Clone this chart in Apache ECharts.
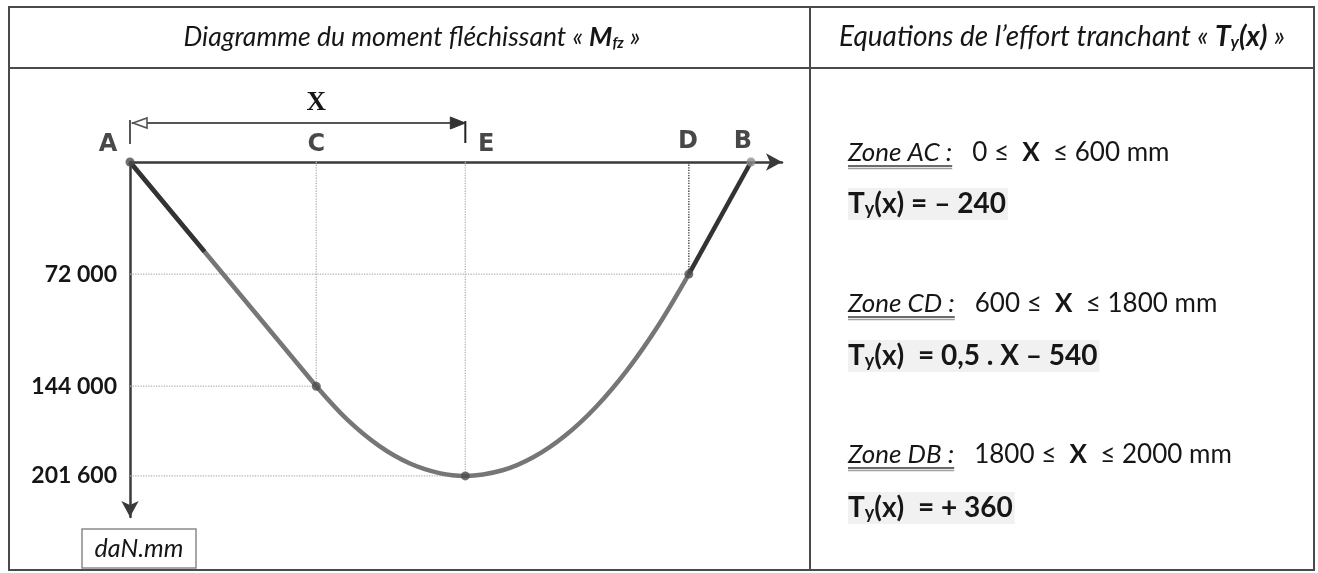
<!DOCTYPE html>
<html>
<head>
<meta charset="utf-8">
<script src="https://cdn.jsdelivr.net/npm/echarts@6/dist/echarts.min.js"></script>
<style>
  html, body { margin: 0; padding: 0; background: #ffffff; }
  #main { width: 1318px; height: 573px; }
</style>
</head>
<body>
<div id="main"></div>
<script>
// Remarkable sections of the beam (abscissa in mm, bending moment in daN.mm)
const pointNames = ['A', 'C', 'E', 'D', 'B'];
const pointX = [0, 600, 1080, 1800, 2000];
const pointM = [0, 144000, 201600, 72000, 0];

// Moment values shown on the vertical axis
const yTickValues = [72000, 144000, 201600];

// Zone AC : linear moment
const acX = [0, 600];
const acM = [0, 144000];
// darker start of segment AC
const acDarkX = [0, 240];
const acDarkM = [0, 57600];

// Zone CD : parabolic moment
const cdX = [600, 700, 800, 900, 1000, 1080, 1200, 1300, 1400, 1500, 1600, 1700, 1800];
const cdM = [144000, 165500, 182000, 193500, 200000, 201600, 198000, 189500, 176000, 157500, 134000, 105500, 72000];

// Zone DB : linear moment
const dbX = [1800, 2000];
const dbM = [72000, 0];

// Dimension "X" drawn from A to E
const dimensionFrom = 0;
const dimensionTo = 1080;

// Shear force equations
const zoneNames = ['Zone AC :', 'Zone CD :', 'Zone DB :'];
const zoneFrom = ['0', '600', '1800'];
const zoneTo = ['600', '1800', '2000'];
const shearRhs = ['= – 240', ' = 0,5 . X – 540', ' = + 360'];

const zip = (xs, ys) => xs.map((x, i) => [x, ys[i]]);
const fmt = v => String(v).replace(/\B(?=(\d{3})+(?!\d))/g, ' ');

const BASE_FONT = 'Lato';
const INK = '#161616';
const chart = echarts.init(document.getElementById('main'), null, { renderer: 'canvas' });

// dotted reference lines from the axes to C, E and D
const guideSeries = [];
[1, 2, 3].forEach(i => {
  const strong = pointNames[i] === 'D';
  guideSeries.push({
    type: 'line', symbol: 'none', silent: true, z: 1,
    data: [[0, pointM[i]], [pointX[i], pointM[i]]],
    lineStyle: { color: '#b3b3b3', width: 1.3, type: 'dotted' }
  });
  guideSeries.push({
    type: 'line', symbol: 'none', silent: true, z: 1,
    data: [[pointX[i], 0], [pointX[i], pointM[i]]],
    lineStyle: { color: strong ? '#333333' : '#b3b3b3', width: 1.3, type: 'dotted' }
  });
});

// letter positions around each section mark on the beam axis
const labelOffsets = [[-22, -17], [0, -17], [21, -17], [-1, -20], [-8, -20]];

chart.setOption({
  animation: false,
  grid: { left: 130, top: 162, width: 652, height: 355, containLabel: false },
  xAxis: {
    type: 'value', min: 0, max: 2100, position: 'top',
    axisLine: {
      show: true, onZero: false,
      symbol: ['none', 'arrow'], symbolSize: [13, 16],
      lineStyle: { color: '#3a3a3a', width: 2.5 }
    },
    axisTick: { show: false }, axisLabel: { show: false }, splitLine: { show: false }
  },
  yAxis: {
    type: 'value', min: 0, max: 228000, inverse: true,
    axisLine: {
      show: true, onZero: false,
      symbol: ['arrow', 'none'], symbolSize: [13, 16],
      lineStyle: { color: '#3a3a3a', width: 2.5 }
    },
    axisTick: { show: false },
    splitLine: { show: false },
    axisLabel: {
      show: true,
      customValues: yTickValues,
      formatter: v => fmt(v),
      margin: 13,
      fontFamily: BASE_FONT, fontWeight: 'bold', fontSize: 23, color: INK
    }
  },
  series: [
    ...guideSeries,
    {
      type: 'line', symbol: 'none', z: 3, data: zip(acX, acM),
      lineStyle: { color: '#767676', width: 4.5 }
    },
    {
      type: 'line', symbol: 'none', z: 3, smooth: 0.35, data: zip(cdX, cdM),
      lineStyle: { color: '#767676', width: 4.5 }
    },
    {
      type: 'line', symbol: 'none', z: 4, data: zip(acDarkX, acDarkM),
      lineStyle: { color: '#333333', width: 4.5 }
    },
    {
      type: 'line', symbol: 'none', z: 4, data: zip(dbX, dbM),
      lineStyle: { color: '#333333', width: 4.5 }
    },
    {
      // section marks on the moment curve
      type: 'scatter', z: 5, symbolSize: 9,
      itemStyle: { color: '#4d4d4d' },
      data: pointNames.map((n, i) => ({
        name: n, value: [pointX[i], pointM[i]],
        itemStyle: n === 'B' ? { color: '#8f8f8f' } : undefined
      }))
    },
    {
      // section letters above the beam axis
      type: 'scatter', z: 6, symbolSize: 1, silent: true,
      itemStyle: { color: 'rgba(0,0,0,0)' },
      data: pointNames.map((n, i) => ({
        name: n, value: [pointX[i], 0],
        label: { offset: labelOffsets[i] }
      })),
      label: {
        show: true, position: 'inside', formatter: '{b}',
        fontFamily: 'DejaVu Sans', fontWeight: 'bold', fontSize: 24, color: '#1a1a1a'
      }
    }
  ]
});

// ---- table frame, headings, dimension and equations ----
const measure = (text, font) => {
  const ctx = document.createElement('canvas').getContext('2d');
  ctx.font = font;
  return ctx.measureText(text).width;
};

const pA = chart.convertToPixel({ gridIndex: 0 }, [dimensionFrom, 0]);
const pE = chart.convertToPixel({ gridIndex: 0 }, [dimensionTo, 0]);
const pC = chart.convertToPixel({ gridIndex: 0 }, [pointX[1], 0]);
const dimY = 123;

const frameColor = '#4a4a4a';
const headingStyle = (text, size, subSize) => ({
  text,
  font: `italic ${size}px ${BASE_FONT}`, fill: INK, align: 'center', verticalAlign: 'middle',
  rich: {
    m: { fontFamily: BASE_FONT, fontStyle: 'italic', fontWeight: 'bold', fontSize: size, fill: INK },
    s: { fontFamily: BASE_FONT, fontStyle: 'italic', fontWeight: 'bold', fontSize: subSize, fill: INK,
         verticalAlign: 'bottom', lineHeight: 14 }
  }
});

const graphics = [
  // outer frame
  { type: 'rect', shape: { x: 9, y: 7, width: 1305, height: 563 },
    style: { fill: 'none', stroke: frameColor, lineWidth: 2 }, silent: true },
  // header separator
  { type: 'line', shape: { x1: 9, y1: 68, x2: 1314, y2: 68 },
    style: { stroke: frameColor, lineWidth: 2 }, silent: true },
  // column separator
  { type: 'line', shape: { x1: 810, y1: 7, x2: 810, y2: 570 },
    style: { stroke: frameColor, lineWidth: 2 }, silent: true },
  // headings
  { type: 'text', x: 412, y: 37, silent: true,
    style: headingStyle('Diagramme du moment fléchissant « {m|M}{s|fz} »', 26.5, 15) },
  { type: 'text', x: 1062, y: 37, silent: true,
    style: headingStyle('Equations de l’effort tranchant « {m|T}{s|y}{m|(x)} »', 28, 17) },
  // dimension X
  { type: 'line', shape: { x1: pA[0] + 2, y1: dimY, x2: pE[0], y2: dimY },
    style: { stroke: '#555', lineWidth: 1.8 }, silent: true },
  { type: 'line', shape: { x1: pA[0], y1: dimY - 3, x2: pA[0], y2: dimY + 21 },
    style: { stroke: '#444', lineWidth: 1.8 }, silent: true },
  { type: 'line', shape: { x1: pE[0], y1: dimY - 2, x2: pE[0], y2: dimY + 20 },
    style: { stroke: '#222', lineWidth: 2 }, silent: true },
  { type: 'polygon', shape: { points: [[pA[0] + 3, dimY], [pA[0] + 17, dimY - 5], [pA[0] + 17, dimY + 5]] },
    style: { fill: '#ffffff', stroke: '#555', lineWidth: 1.6 }, silent: true },
  { type: 'polygon', shape: { points: [[pE[0], dimY], [pE[0] - 15, dimY - 6], [pE[0] - 15, dimY + 6]] },
    style: { fill: '#333', stroke: '#333', lineWidth: 1 }, silent: true },
  { type: 'text', x: pC[0], y: 103, silent: true,
    style: { text: 'X', font: 'bold 27px "Liberation Serif"', fill: INK, align: 'center', verticalAlign: 'middle' } },
  // unit box
  { type: 'rect', shape: { x: 82, y: 529, width: 114, height: 39 },
    style: { fill: '#fff', stroke: '#8a8a8a', lineWidth: 1.5 }, silent: true },
  { type: 'text', x: 139, y: 549, silent: true,
    style: { text: 'daN.mm', font: `italic 25px ${BASE_FONT}`, fill: INK, align: 'center', verticalAlign: 'middle' } }
];

// shear force equations, one block per zone
const zoneY = [153, 304, 455];
const eqY = [204, 356, 508];
const textX = 848;
const ZF = 26;
zoneNames.forEach((name, i) => {
  graphics.push({
    type: 'text', x: textX, y: zoneY[i], silent: true,
    style: {
      text: `{u|${name}}   ${zoneFrom[i]} ≤  {b|X}  ≤ ${zoneTo[i]} mm`,
      font: `${ZF}px ${BASE_FONT}`, fill: INK, align: 'left', verticalAlign: 'middle',
      rich: {
        u: { fontFamily: BASE_FONT, fontStyle: 'italic', fontSize: ZF, fill: INK },
        b: { fontFamily: BASE_FONT, fontWeight: 'bold', fontSize: ZF, fill: INK }
      }
    }
  });
  const uw = measure(name, `italic ${ZF}px ${BASE_FONT}`);
  graphics.push({ type: 'line', silent: true,
    shape: { x1: textX, y1: zoneY[i] + 13, x2: textX + uw, y2: zoneY[i] + 13 },
    style: { stroke: '#3a3a3a', lineWidth: 1.3 } });
  graphics.push({ type: 'line', silent: true,
    shape: { x1: textX, y1: zoneY[i] + 15.5, x2: textX + uw, y2: zoneY[i] + 15.5 },
    style: { stroke: '#a0a0a0', lineWidth: 1.3 } });
  graphics.push({
    type: 'text', x: textX, y: eqY[i], silent: true,
    style: {
      text: `{t|T}{s|y}{t|(x) ${shearRhs[i]}}`,
      font: `bold 28px ${BASE_FONT}`, fill: INK, align: 'left', verticalAlign: 'middle',
      backgroundColor: '#f1f1f1', padding: [2, 2, 2, 0],
      rich: {
        t: { fontFamily: BASE_FONT, fontWeight: 'bold', fontSize: 28, fill: INK },
        s: { fontFamily: BASE_FONT, fontWeight: 'bold', fontSize: 18, fill: INK,
             verticalAlign: 'bottom', lineHeight: 17 }
      }
    }
  });
});

chart.setOption({ graphic: graphics });
</script>
</body>
</html>
